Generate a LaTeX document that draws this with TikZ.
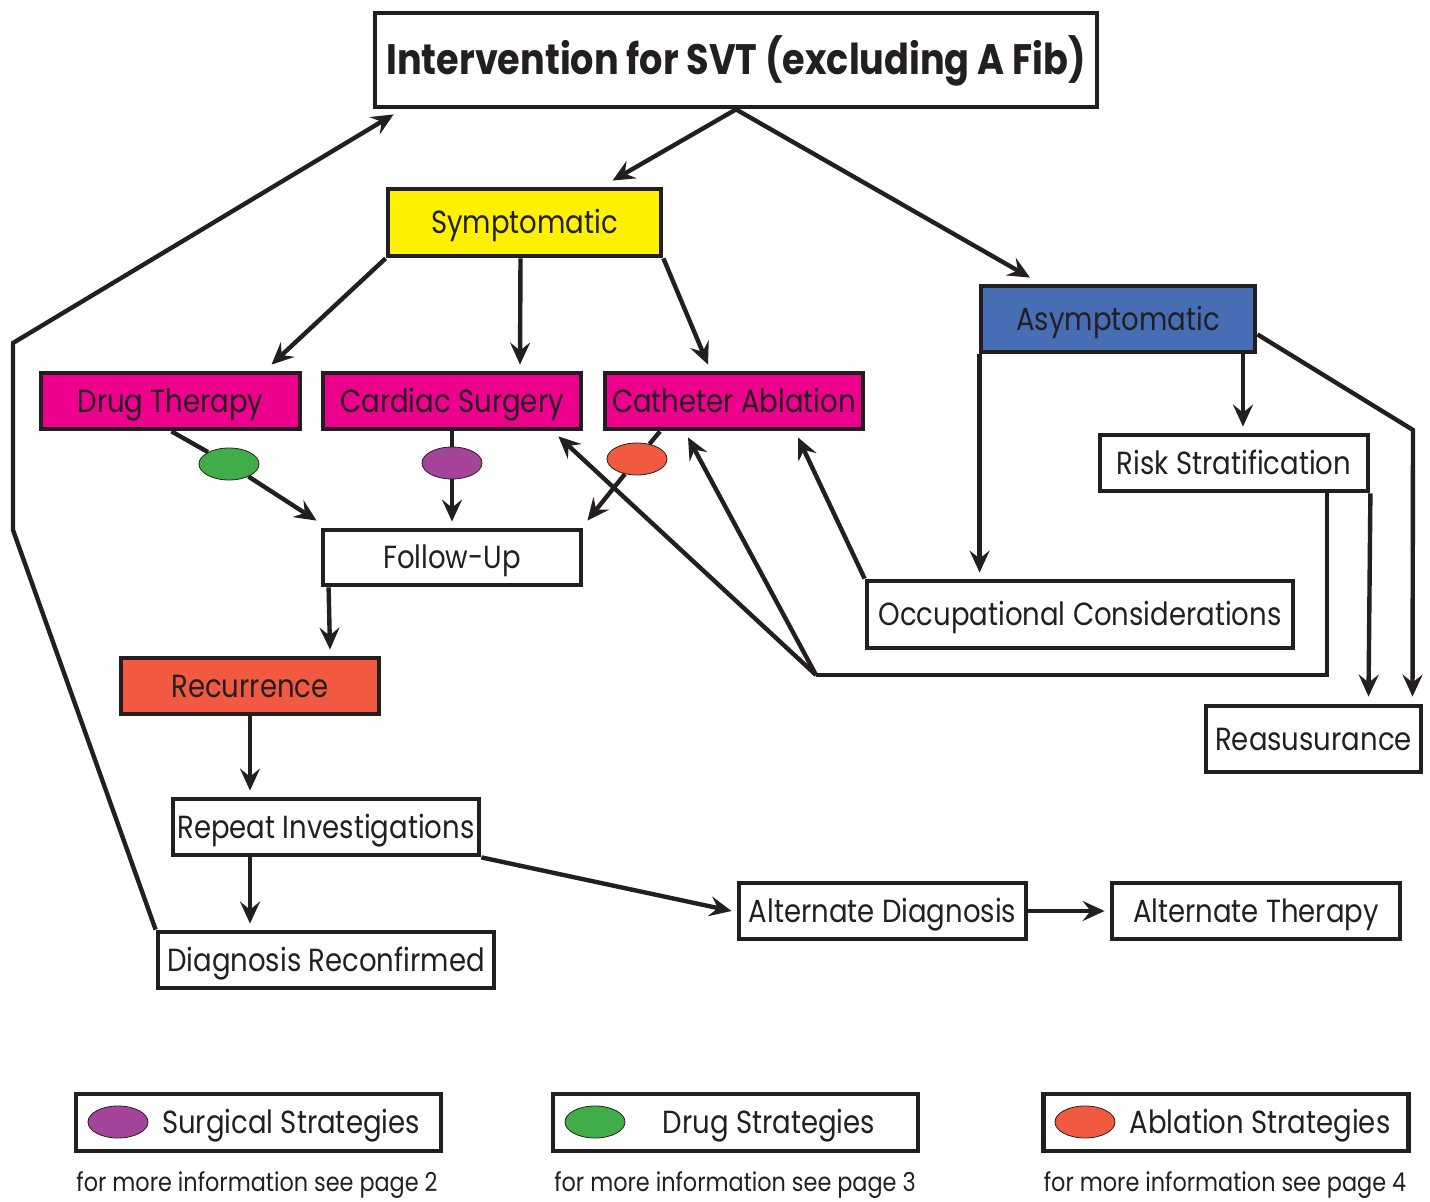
\documentclass[tikz,border=0pt]{standalone}
\usepackage{fontspec}
\setmainfont[FakeStretch=0.86]{Poppins}
\usepackage{tikz}
\usetikzlibrary{arrows.meta}
\usetikzlibrary{calc}
\usetikzlibrary{shapes.geometric}
\usepackage{xcolor}

\definecolor{ink}{HTML}{231F20}
\definecolor{sympyellow}{HTML}{FFF200}
\definecolor{asympblue}{HTML}{476EB4}
\definecolor{treatmagenta}{HTML}{EC008C}
\definecolor{recurred}{HTML}{F15A40}
\definecolor{druggreen}{HTML}{3FAE49}
\definecolor{surgpurple}{HTML}{A4449A}

\tikzset{
  box/.style={draw=ink, line width=2.4pt, inner sep=0pt, text=ink, font=\fontsize{16}{18}\selectfont, text height=11.2pt, text depth=0pt},
  dot/.style={draw=ink, line width=0.4pt, ellipse, minimum width=30pt, minimum height=16pt, inner sep=0pt},
  conn/.style={draw=ink, line width=2.2pt, -{Stealth[length=11pt,width=10pt,inset=4pt]}},
  plain/.style={draw=ink, line width=2.2pt},
  note/.style={text=ink, font=\fontsize{13}{15}\selectfont, inner sep=0pt, anchor=base}
}

\begin{document}
\begin{tikzpicture}[x=0.5pt,y=-0.5pt]
\useasboundingbox (0,0) rectangle (1430,1202);

\node[box, minimum width=361pt, minimum height=47pt, font=\fontsize{21.3}{24}\selectfont\bfseries, text height=14.8pt] (title) at (736,60) {Intervention for SVT (excluding A Fib)};

\node[box, fill=sympyellow, minimum width=136.5pt, minimum height=33.5pt] (symp) at (524.5,222.5) {Symptomatic};
\node[box, fill=asympblue, minimum width=137pt, minimum height=33pt] (asymp) at (1118,319) {Asymptomatic};

\node[box, fill=treatmagenta, minimum width=129.5pt, minimum height=28pt] (drug) at (170.5,401) {Drug Therapy};
\node[box, fill=treatmagenta, minimum width=129pt, minimum height=28pt] (cardiac) at (452,401) {Cardiac Surgery};
\node[box, fill=treatmagenta, minimum width=129pt, minimum height=28pt] (cath) at (734,401) {Catheter Ablation};

\node[box, minimum width=129pt, minimum height=27.5pt] (follow) at (452,557.5) {Follow-Up};
\node[box, fill=recurred, minimum width=129pt, minimum height=28pt] (recur) at (250,686) {Recurrence};
\node[box, minimum width=153pt, minimum height=28pt] (repeat) at (326,827) {Repeat Investigations};
\node[box, minimum width=168pt, minimum height=28pt] (diagrec) at (326,960) {Diagnosis Reconfirmed};
\node[box, minimum width=143.5pt, minimum height=28pt] (altdiag) at (882.5,911) {Alternate Diagnosis};
\node[box, minimum width=144pt, minimum height=28pt] (altther) at (1256,911) {Alternate Therapy};

\node[box, minimum width=134pt, minimum height=28pt] (risk) at (1234,463) {Risk Stratification};
\node[box, minimum width=213pt, minimum height=33.5pt] (occup) at (1080,614.5) {Occupational Considerations};
\node[box, minimum width=107.5pt, minimum height=33pt] (reass) at (1313.5,739) {Reasusurance};

\node[dot, fill=druggreen] (gdot) at (229,464) {};
\node[dot, fill=surgpurple] (pdot) at (452,463) {};
\node[dot, fill=recurred] (odot) at (637,459) {};

\coordinate (lbend1) at (13,530);
\coordinate (lbend2) at (13,343);
\coordinate (rbend) at (1413,430);
\coordinate (rjoin) at (1327,675);
\coordinate (hub) at (816,675);

\draw[conn] (title.south) -- ($(symp.north)+(88,-6)$);
\draw[conn] (title.south) -- ($(asymp.north)+(-88,-6)$);

\draw[conn] (symp.south west) -- ($(drug.north)+(101,-6)$);
\draw[conn] ($(symp.south)+(-4,0)$) -- ($(cardiac.north)+(68,-6)$);
\draw[conn] (symp.south east) -- ($(cath.north)+(-26,-6)$);

\draw[plain] ($(drug.south)+(1,0)$) -- (gdot);
\draw[conn] (gdot) -- ($(follow.north west)+(-4,-7)$);
\draw[plain] (cardiac.south) -- (pdot);
\draw[conn] (pdot) -- ($(follow.north)+(0,-6)$);
\draw[plain] ($(cath.south)+(-74,0)$) -- (odot);
\draw[conn] (odot) -- ($(follow.north east)+(4,-7)$);

\draw[conn] ($(follow.south west)+(8,0)$) -- ($(recur.north)+(80,-6)$);
\draw[conn] (recur.south) -- ($(repeat.north)+(-76,-6)$);
\draw[conn] ($(repeat.south)+(-76,0)$) -- ($(diagrec.north)+(-76,-6)$);
\draw[conn] (repeat.south east) -- ($(altdiag.west)+(-5,0)$);
\draw[conn] (altdiag.east) -- ($(altther.west)+(-5,0)$);

\draw[conn, line join=miter] (diagrec.north west) -- (lbend1) -- (lbend2) -- ($(title.south west)+(21,5)$);

\draw[conn] ($(asymp.south)+(125,0)$) -- ($(risk.north)+(9,-6)$);
\draw[conn] ($(asymp.south west)+(1,0)$) -- ($(occup.north west)+(115,-6)$);
\draw[conn, line join=miter] ($(asymp.south east)+(0,-20)$) -- (rbend) -- ($(reass.north)+(99,-7)$);
\draw[conn] (risk.south east) -- ($(reass.north)+(55,-7)$);

\draw[plain, line join=miter] ($(risk.south)+(93,0)$) -- (rjoin) -- (hub);
\draw[conn] (hub) -- ($(cardiac.south east)+(-25,5)$);
\draw[conn] (hub) -- ($(cath.south)+(-46,6)$);
\draw[conn] (occup.north west) -- ($(cath.south)+(64,6)$);

% legend
\node[box, minimum width=182.5pt, minimum height=28.5pt] (surgleg) at (258.5,1122.5) {};
\node[box, minimum width=182.5pt, minimum height=28.5pt] (drugleg) at (735.5,1122.5) {};
\node[box, minimum width=182.5pt, minimum height=28.5pt] (ablleg) at (1226,1122.5) {};

\node[dot, fill=surgpurple] (surgdot) at (118,1122) {};
\node[dot, fill=druggreen] (drugdot) at (595,1122) {};
\node[dot, fill=recurred] (abldot) at (1085,1122) {};

\node[box, draw=none] (surgtext) at (291,1122) {Surgical Strategies};
\node[box, draw=none] (drugtext) at (769,1122) {Drug Strategies};
\node[box, draw=none] (abltext) at (1260,1122) {Ablation Strategies};

\node[note] (surgnote) at (257,1191) {for more information see page 2};
\node[note] (drugnote) at (735,1191) {for more information see page 3};
\node[note] (ablnote) at (1225,1191) {for more information see page 4};

\end{tikzpicture}
\end{document}
